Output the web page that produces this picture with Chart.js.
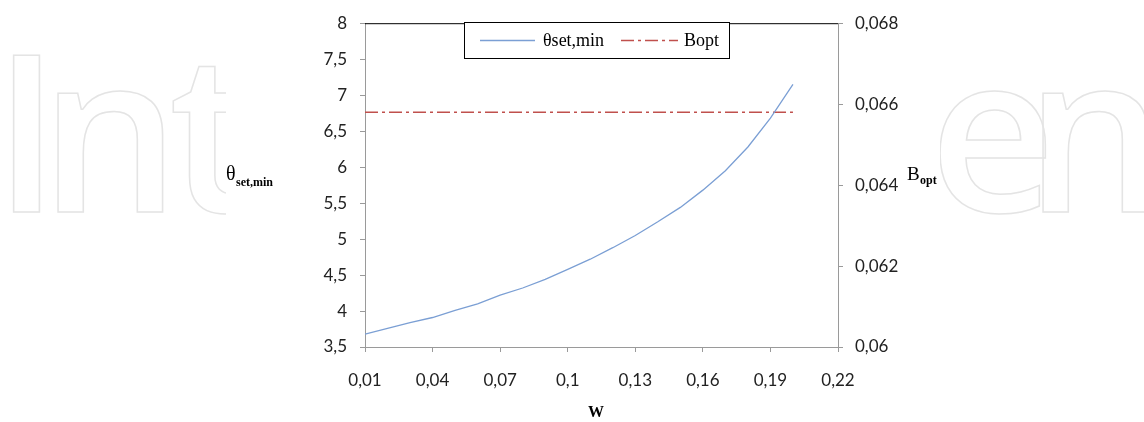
<!DOCTYPE html>
<html>
<head>
<meta charset="utf-8">
<script src="https://cdn.jsdelivr.net/npm/chart.js@4.4.0/dist/chart.umd.min.js"></script>
<style>
    html, body { margin: 0; padding: 0; background: #fff; }
    #wrap { width: 1144px; height: 422px; }
</style>
</head>
<body>
<div id="wrap"><canvas id="wChart" width="1144" height="422"></canvas></div>
<script>
// data
const wValues = [0.01, 0.02, 0.03, 0.04, 0.05, 0.06, 0.07, 0.08, 0.09, 0.10,
                 0.11, 0.12, 0.13, 0.14, 0.15, 0.16, 0.17, 0.18, 0.19, 0.20];
const thetaSetMin = [3.68, 3.76, 3.84, 3.91, 4.01, 4.10, 4.22, 4.32, 4.44, 4.58,
                     4.72, 4.88, 5.05, 5.24, 5.44, 5.68, 5.95, 6.28, 6.68, 7.15];
const bOpt = [0.0658, 0.0658, 0.0658, 0.0658, 0.0658, 0.0658, 0.0658, 0.0658, 0.0658, 0.0658,
              0.0658, 0.0658, 0.0658, 0.0658, 0.0658, 0.0658, 0.0658, 0.0658, 0.0658, 0.0658];
const xTickValues = [0.01, 0.04, 0.07, 0.1, 0.13, 0.16, 0.19, 0.22];

const tickFont = { family: "Lato", size: 17 };
const axisGray = "#9a9a9a";

function comma(v) {
    return String(+v.toFixed(3)).replace(".", ",");
}

// faint watermark behind the figure (letters placed one by one)
const watermark = {
    id: "watermark",
    beforeDraw(chart) {
        const ctx = chart.ctx;
        ctx.save();
        ctx.fillStyle = "#fff";
        ctx.fillRect(0, 0, chart.width, chart.height);
        ctx.font = "600 220px 'Open Sans'";
        ctx.strokeStyle = "#e4e4e4";
        ctx.lineWidth = 1.5;
        ctx.textBaseline = "alphabetic";
        const letters = [["I", 13], ["n", 58], ["t", 173], ["e", 940], ["n", 1043]];
        letters.forEach(([ch, x]) => {
            const m = ctx.measureText(ch);
            ctx.strokeText(ch, x + m.actualBoundingBoxLeft, 212);
        });
        ctx.fillRect(226, 0, 714, chart.height);
        ctx.restore();
    }
};

// top border, legend box and axis titles
const extras = {
    id: "extras",
    afterDraw(chart) {
        const ctx = chart.ctx;
        const a = chart.chartArea;
        ctx.save();
        ctx.strokeStyle = "#000";
        ctx.lineWidth = 1;
        ctx.beginPath();
        ctx.moveTo(a.left, a.top + 0.5);
        ctx.lineTo(a.right, a.top + 0.5);
        ctx.stroke();

        // legend
        ctx.fillStyle = "#fff";
        ctx.fillRect(464.5, 22.5, 265, 36);
        ctx.strokeRect(464.5, 22.5, 265, 36);
        const ds = chart.data.datasets;
        ctx.lineWidth = 1.3;
        ctx.strokeStyle = ds[0].borderColor;
        ctx.beginPath(); ctx.moveTo(480, 40.5); ctx.lineTo(535, 40.5); ctx.stroke();
        ctx.strokeStyle = ds[1].borderColor;
        ctx.setLineDash(ds[1].borderDash);
        ctx.beginPath(); ctx.moveTo(621, 40.5); ctx.lineTo(678, 40.5); ctx.stroke();
        ctx.setLineDash([]);
        ctx.fillStyle = "#000";
        ctx.font = "18px 'Liberation Serif'";
        ctx.textBaseline = "middle";
        ctx.fillText(ds[0].label, 543, 41);
        ctx.fillText(ds[1].label, 684, 41);

        // axis titles
        ctx.textBaseline = "alphabetic";
        ctx.font = "20px 'Liberation Serif'";
        ctx.fillText("θ", 226, 180);
        ctx.font = "bold 12px 'Liberation Serif'";
        ctx.fillText("set,min", 236, 186);
        ctx.font = "19px 'Liberation Serif'";
        ctx.fillText("B", 907, 180);
        ctx.font = "bold 12px 'Liberation Serif'";
        ctx.fillText("opt", 920, 184);
        ctx.font = "bold 16px 'Liberation Serif'";
        ctx.textAlign = "center";
        ctx.fillText("W", 596, 417);
        ctx.restore();
    }
};

const ctx = document.getElementById("wChart").getContext("2d");
const wChart = new Chart(ctx, {
    type: "line",
    data: {
        datasets: [
            {
                label: "θset,min",
                data: wValues.map((w, i) => ({ x: w, y: thetaSetMin[i] })),
                borderColor: "#7b9fd4",
                borderWidth: 1.3,
                pointRadius: 0,
                tension: 0,
                yAxisID: "y"
            },
            {
                label: "Bopt",
                data: wValues.map((w, i) => ({ x: w, y: bOpt[i] })),
                borderColor: "#c0504d",
                borderWidth: 1.3,
                borderDash: [13, 4, 3, 4],
                pointRadius: 0,
                tension: 0,
                yAxisID: "y1"
            }
        ]
    },
    options: {
        responsive: false,
        animation: false,
        layout: { padding: { top: 20, left: 0, right: 0, bottom: 0 } },
        plugins: { legend: { display: false }, tooltip: { enabled: false } },
        scales: {
            x: {
                type: "linear",
                min: 0.01,
                max: 0.22,
                afterBuildTicks: (s) => { s.ticks = xTickValues.map(v => ({ value: v })); },
                afterFit: (s) => { s.height = 75; },
                border: { color: axisGray, width: 1 },
                grid: { drawOnChartArea: false, color: axisGray, tickLength: 5 },
                ticks: { font: tickFont, color: "#222", padding: 18, maxRotation: 0, callback: comma }
            },
            y: {
                position: "left",
                min: 3.5,
                max: 8,
                afterFit: (s) => { s.width = 365; },
                border: { color: axisGray, width: 1 },
                grid: { drawOnChartArea: false, color: axisGray, tickLength: 5 },
                ticks: { font: tickFont, color: "#222", padding: 13, stepSize: 0.5, callback: comma }
            },
            y1: {
                position: "right",
                min: 0.06,
                max: 0.068,
                afterFit: (s) => { s.width = 306; },
                border: { color: axisGray, width: 1 },
                grid: { drawOnChartArea: false, color: axisGray, tickLength: 5 },
                ticks: { font: tickFont, color: "#222", padding: 12, stepSize: 0.002, callback: comma }
            }
        }
    },
    plugins: [watermark, extras]
});
</script>
</body>
</html>
